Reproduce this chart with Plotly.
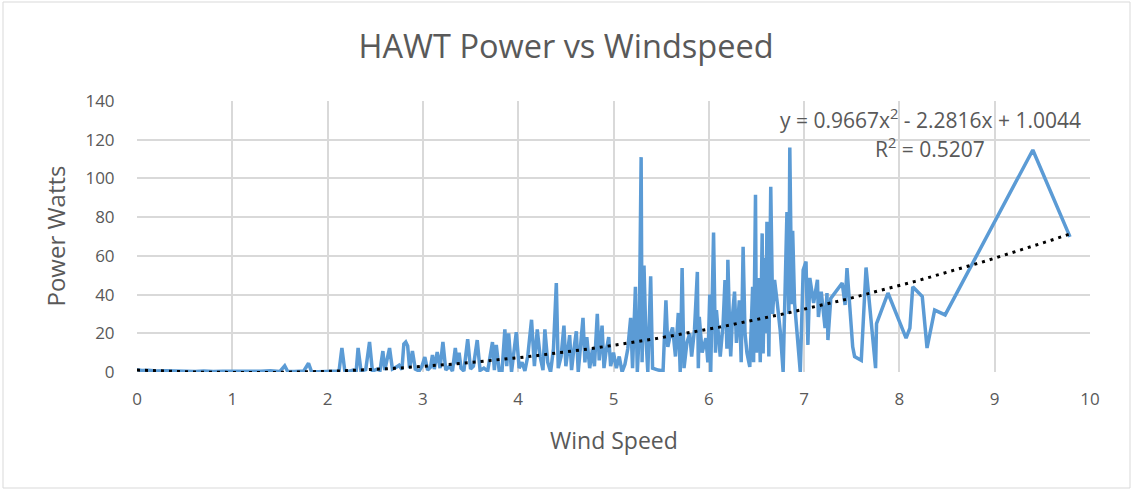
import plotly.graph_objects as go
import numpy as np

# Wind speed (m/s) and power (W), in data order
wind_speed = [
    0.00, 0.05, 0.12, 0.20, 0.30, 0.42, 0.50, 0.61, 0.70, 0.80, 0.90, 1.00, 1.10, 1.20, 1.30, 1.40,
    1.50, 1.55, 1.58, 1.65, 1.75, 1.80, 1.83, 1.90, 2.00, 2.08,
    2.12, 2.15, 2.18, 2.22, 2.27, 2.30, 2.32, 2.35, 2.40, 2.44, 2.47, 2.52, 2.55, 2.58, 2.60, 2.65,
    2.68, 2.72, 2.75, 2.78, 2.80, 2.82, 2.84, 2.86, 2.89, 2.92, 2.96, 2.99, 3.02, 3.05, 3.08, 3.10,
    3.12, 3.15, 3.18, 3.21, 3.24, 3.28, 3.31, 3.34, 3.36, 3.38, 3.40, 3.43, 3.47, 3.50, 3.53, 3.57,
    3.60, 3.64, 3.68, 3.73, 3.75, 3.77, 3.80, 3.83,
    3.86, 3.88, 3.90, 3.93, 3.98, 4.01, 4.04, 4.07, 4.10, 4.14, 4.17, 4.20, 4.23, 4.26, 4.28, 4.31,
    4.34, 4.37, 4.40, 4.42, 4.45, 4.48, 4.50, 4.54, 4.56, 4.58, 4.61, 4.63, 4.66, 4.68, 4.70, 4.72,
    4.75, 4.78, 4.80, 4.83, 4.85, 4.88, 4.90, 4.92, 4.95, 4.97, 5.00, 5.03, 5.06, 5.09, 5.12, 5.15,
    5.18, 5.20, 5.23, 5.25, 5.27, 5.29, 5.30, 5.32, 5.34, 5.36, 5.39, 5.41, 5.47, 5.52,
    5.55, 5.57, 5.60, 5.62, 5.65, 5.68, 5.70, 5.72, 5.74, 5.77, 5.80, 5.82, 5.85, 5.88, 5.89, 5.90,
    5.93, 5.97, 5.99, 6.01, 6.02, 6.05, 6.07, 6.08, 6.10, 6.12, 6.15, 6.17, 6.19, 6.20, 6.22, 6.23,
    6.25, 6.27, 6.29, 6.32, 6.34, 6.36, 6.38, 6.40, 6.43, 6.46, 6.47, 6.49, 6.50, 6.52, 6.54, 6.56,
    6.57, 6.59, 6.60, 6.61, 6.63, 6.65, 6.67, 6.69, 6.72, 6.75, 6.78, 6.80, 6.82, 6.84, 6.85, 6.87,
    6.88, 6.90, 6.93, 6.96, 6.99, 7.02, 7.04, 7.06, 7.10, 7.14, 7.15, 7.18, 7.22, 7.24, 7.25, 7.28,
    7.40, 7.43, 7.45, 7.51, 7.53, 7.60, 7.65, 7.75, 7.76, 7.88, 8.07, 8.11, 8.14, 8.24, 8.29, 8.37,
    8.48, 9.40, 9.79,
]
power = [
    1.2, 0.8, 0.9, 0.5, 0.7, 0.4, 0.6, 0.3, 0.5, 0.2, 0.4, 0.3, 0.5, 0.2, 0.4, 0.6,
    0.3, 3.2, 0.4, 0.2, 0.5, 4.5, 0.3, 0.1, 0.4, 0.2,
    0.5, 12.4, 0.8, 0.3, 1.0, 0.4, 12.4, 0.6, 1.2, 15.5, 0.5, 1.5, 0.8, 10.8, 1.0, 12.4,
    1.5, 2.5, 3.5, 1.2, 14.5, 15.5, 13.5, 2.0, 10.8, 1.5, 0.5, 3.0, 7.7, 1.0, 2.5, 8.8,
    1.5, 10.3, 2.0, 15.5, 1.0, 3.0, 0.5, 12.4, 4.0, 10.0, 2.0, 0.5, 17.0, 1.5, 3.0, 16.5,
    0.8, 2.0, 0.5, 15.5, 1.0, 14.0, 0.8, 0.3,
    22.0, 3.0, 20.0, 0.0, 20.6, 2.0, 5.0, 0.5, 8.0, 27.0, 3.0, 22.0, 8.0, 1.0, 22.0, 5.0,
    0.0, 12.0, 46.0, 2.0, 8.0, 24.0, 3.0, 19.0, 1.0, 10.0, 21.0, 0.0, 15.0, 28.0, 5.0, 18.0,
    2.0, 12.0, 3.0, 30.0, 6.0, 24.0, 2.0, 10.0, 18.0, 3.0, 10.0, 2.0, 8.0, 0.0, 4.0, 12.0,
    28.0, 2.0, 44.0, 0.0, 20.0, 111.0, 5.0, 55.0, 18.0, 0.0, 49.5, 2.0, 1.0, 0.5,
    37.0, 13.0, 20.0, 23.0, 8.0, 30.5, 0.0, 53.7, 2.0, 15.0, 20.0, 8.0, 22.0, 51.7, 2.0, 28.5,
    10.0, 17.5, 5.0, 40.0, 0.0, 72.0, 10.0, 32.0, 20.0, 8.0, 25.0, 47.5, 12.0, 58.0, 20.0, 8.0,
    30.0, 41.5, 15.0, 37.0, 5.0, 64.7, 20.0, 10.0, 2.6, 44.0, 5.0, 91.5, 10.0, 48.6, 5.0, 71.6,
    9.6, 59.0, 20.0, 77.6, 8.0, 95.7, 30.0, 47.6, 35.0, 21.0, 0.0, 40.0, 82.6, 30.0, 116.0, 35.0,
    73.0, 35.6, 20.0, 0.0, 52.7, 57.0, 14.0, 48.6, 35.6, 47.6, 28.4, 41.5, 22.7, 40.8, 16.5, 38.0,
    46.0, 34.6, 53.7, 13.0, 8.0, 6.0, 54.0, 2.0, 25.0, 40.8, 17.5, 22.7, 44.0, 39.0, 12.4, 32.0,
    29.5, 114.7, 69.8,
]

# Polynomial trendline coefficients printed on the chart
trend_a, trend_b, trend_c = 0.9667, -2.2816, 1.0044
r_squared = 0.5207
trend_x = np.linspace(0, max(wind_speed), 200)
trend_y = trend_a * trend_x**2 + trend_b * trend_x + trend_c

x_ticks = [0, 1, 2, 3, 4, 5, 6, 7, 8, 9, 10]
y_ticks = [0, 20, 40, 60, 80, 100, 120, 140]

FONT = "Open Sans"
TXT = "#595959"
GRID = "#d9d9d9"

fig = go.Figure()
fig.add_trace(go.Scatter(
    x=wind_speed, y=power, mode="lines",
    line=dict(color="#5B9BD5", width=3.5),
    showlegend=False, hoverinfo="x+y",
))
fig.add_trace(go.Scatter(
    x=trend_x, y=trend_y, mode="lines",
    line=dict(color="black", width=3, dash="3px,5px"),
    showlegend=False, hoverinfo="skip",
))

fig.update_layout(
    width=1131, height=489,
    margin=dict(l=137, r=41, t=101, b=117),
    paper_bgcolor="white", plot_bgcolor="white",
    font=dict(family=FONT, color=TXT, size=17),
    title=dict(text="HAWT Power vs Windspeed", x=0.5005, y=0.904,
               xref="container", yref="container",
               xanchor="center", yanchor="middle",
               font=dict(family=FONT, size=32.5, color=TXT)),
    xaxis=dict(range=[0, 10], tickvals=x_ticks, showgrid=True, gridcolor=GRID, gridwidth=1.5,
               zeroline=False, showline=False, ticks="outside", ticklen=12,
               tickcolor="rgba(0,0,0,0)", tickfont=dict(size=17, color=TXT)),
    yaxis=dict(range=[0, 140], tickvals=y_ticks, showgrid=True, gridcolor=GRID, gridwidth=1.5,
               zeroline=False, showline=False, ticks="outside", ticklen=18,
               tickcolor="rgba(0,0,0,0)", tickfont=dict(size=17, color=TXT)),
    annotations=[
        dict(text="Power Watts", xref="paper", yref="paper", x=-0.086, y=0.5,
             textangle=-90, showarrow=False, xanchor="center", yanchor="middle",
             font=dict(size=24, color=TXT, family=FONT)),
        dict(text="Wind Speed", xref="paper", yref="paper", x=0.5, y=-0.251,
             showarrow=False, xanchor="center", yanchor="middle",
             font=dict(size=23, color=TXT, family=FONT)),
        dict(text="y = %.4fx<sup>2</sup> - %.4fx + %.4f" % (trend_a, -trend_b, trend_c),
             xref="paper", yref="paper", x=0.9927, y=0.937, showarrow=False,
             xanchor="right", yanchor="middle", font=dict(size=21, color=TXT, family=FONT)),
        dict(text="R<sup>2</sup> = %.4f" % r_squared,
             xref="paper", yref="paper", x=0.892, y=0.830, showarrow=False,
             xanchor="right", yanchor="middle", font=dict(size=21, color=TXT, family=FONT)),
    ],
    shapes=[
        dict(type="rect", xref="paper", yref="paper",
             x0=(3 - 137) / 953, x1=(1130 - 137) / 953,
             y0=(372 - 488) / 271, y1=(372 - 2) / 271,
             line=dict(color=GRID, width=1), fillcolor="rgba(0,0,0,0)", layer="below"),
    ],
)

fig.write_html("out.html", config={"displayModeBar": False},
               post_script="document.body.style.margin='0';")
